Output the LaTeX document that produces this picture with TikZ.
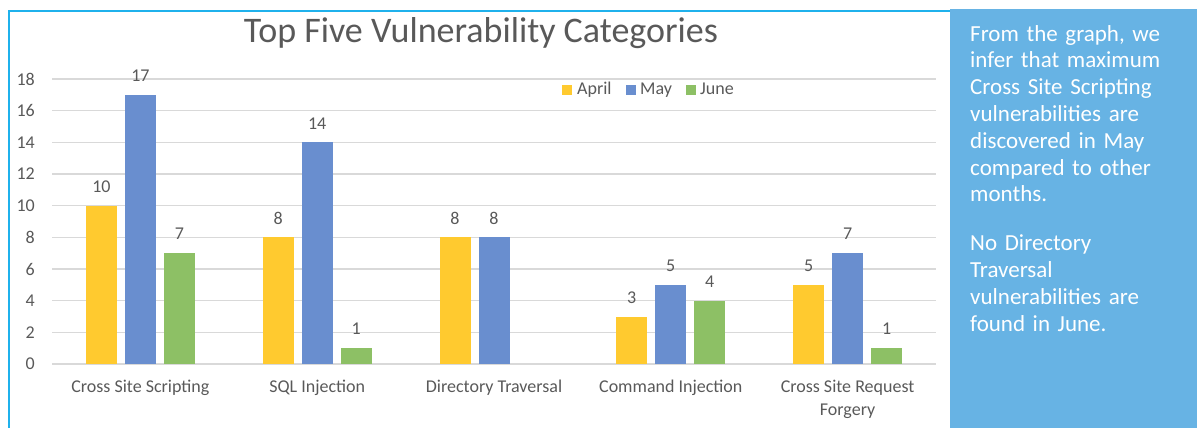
\documentclass[tikz,border=0pt]{standalone}
\usepackage{fontspec}
\setmainfont{Carlito}
\definecolor{VAbril}{HTML}{FFCA2F}
\definecolor{VMayo}{HTML}{698ECF}
\definecolor{VJunio}{HTML}{8DC065}
\definecolor{GrisRejilla}{HTML}{D9D9D9}
\definecolor{GrisTexto}{HTML}{595959}
\definecolor{CianMarco}{HTML}{1FB1EC}
\definecolor{AzulNota}{HTML}{67B3E4}

\begin{document}
\begin{tikzpicture}[
      x=1pt, y=-1pt,
      rejilla/.style={draw=GrisRejilla, line width=1.3pt},
      marco/.style={draw=CianMarco, line width=2pt},
      valor/.style={font=\fontsize{18}{20}\selectfont, text=GrisTexto, inner sep=0pt},
      eje/.style={font=\fontsize{18}{20}\selectfont, text=GrisTexto, inner sep=0pt, anchor=east},
      categoria/.style={font=\fontsize{18}{23}\selectfont, text=GrisTexto, inner sep=0pt, align=center, anchor=north},
      leyenda/.style={font=\fontsize{18}{20}\selectfont, text=GrisTexto, inner sep=0pt, anchor=base west},
      titulo/.style={font=\fontsize{36}{40}\selectfont, text=GrisTexto, inner sep=0pt, anchor=base},
      nota/.style={font=\fontsize{23}{26.8}\selectfont, text=white, inner sep=0pt,
        anchor=north west, align=left, text width=222pt},
    ]

    \useasboundingbox (0,0) rectangle (1197,428);

    % marco del grafico y recuadro de la nota
    \draw[marco] (9,428) -- (9,11) -- (950,11);
    \fill[AzulNota] (950,9) rectangle (1197,428);

    % rejilla y eje vertical
    \foreach \k in {0,...,9} {
      \pgfmathsetmacro{\yy}{364-31.667*\k}
      \draw[rejilla] (52,\yy) -- (936,\yy);
      \pgfmathtruncatemacro{\lab}{2*\k}
      \node[eje] (y\lab) at (35,\yy) {\lab};
    }

    % barras por categoria: abril/mayo/junio
    \foreach \a/\m/\j [count=\i from 0] in {10/17/7, 8/14/1, 8/8/0, 3/5/4, 5/7/1} {
      \pgfmathsetmacro{\c}{140.4+176.8*\i}
      \fill[VAbril] ({\c-54.5},364) rectangle ({\c-23.5},{364-15.833*\a});
      \node[valor] (abr\i) at ({\c-39},{364-15.833*\a-19}) {\a};
      \fill[VMayo] ({\c-15.5},364) rectangle ({\c+15.5},{364-15.833*\m});
      \node[valor] (may\i) at (\c,{364-15.833*\m-19}) {\m};
      \ifnum\j>0
        \fill[VJunio] ({\c+23.5},364) rectangle ({\c+54.5},{364-15.833*\j});
        \node[valor] (jun\i) at ({\c+39},{364-15.833*\j-19}) {\j};
      \fi
    }

    \node[categoria] (cat1) at (140.4,380) {Cross Site Scripting};
    \node[categoria] (cat2) at (317.2,380) {SQL Injection};
    \node[categoria] (cat3) at (494,380)   {Directory Traversal};
    \node[categoria] (cat4) at (670.8,380) {Command Injection};
    \node[categoria] (cat5) at (847.6,380) {Cross Site Request\\Forgery};

    \node[titulo] (tit) at (481,43) {Top Five Vulnerability Categories};

    % leyenda
    \fill[VAbril] (562,85) rectangle (572,95);
    \node[leyenda] (leyabr) at (577,94) {April};
    \fill[VMayo] (626,85) rectangle (636,95);
    \node[leyenda] (leymay) at (640,94) {May};
    \fill[VJunio] (686,85) rectangle (696,95);
    \node[leyenda] (leyjun) at (700,94) {June};

    \node[nota] (conclusion) at (970,25) {From the graph, we\\
      infer that maximum\\
      Cross Site Scripting\\
      vulnerabilities are\\
      discovered in May\\
      compared to other\\
      months.\\[22pt]
      No Directory\\
      Traversal\\
      vulnerabilities are\\
      found in June.};

  \end{tikzpicture}
\end{document}
